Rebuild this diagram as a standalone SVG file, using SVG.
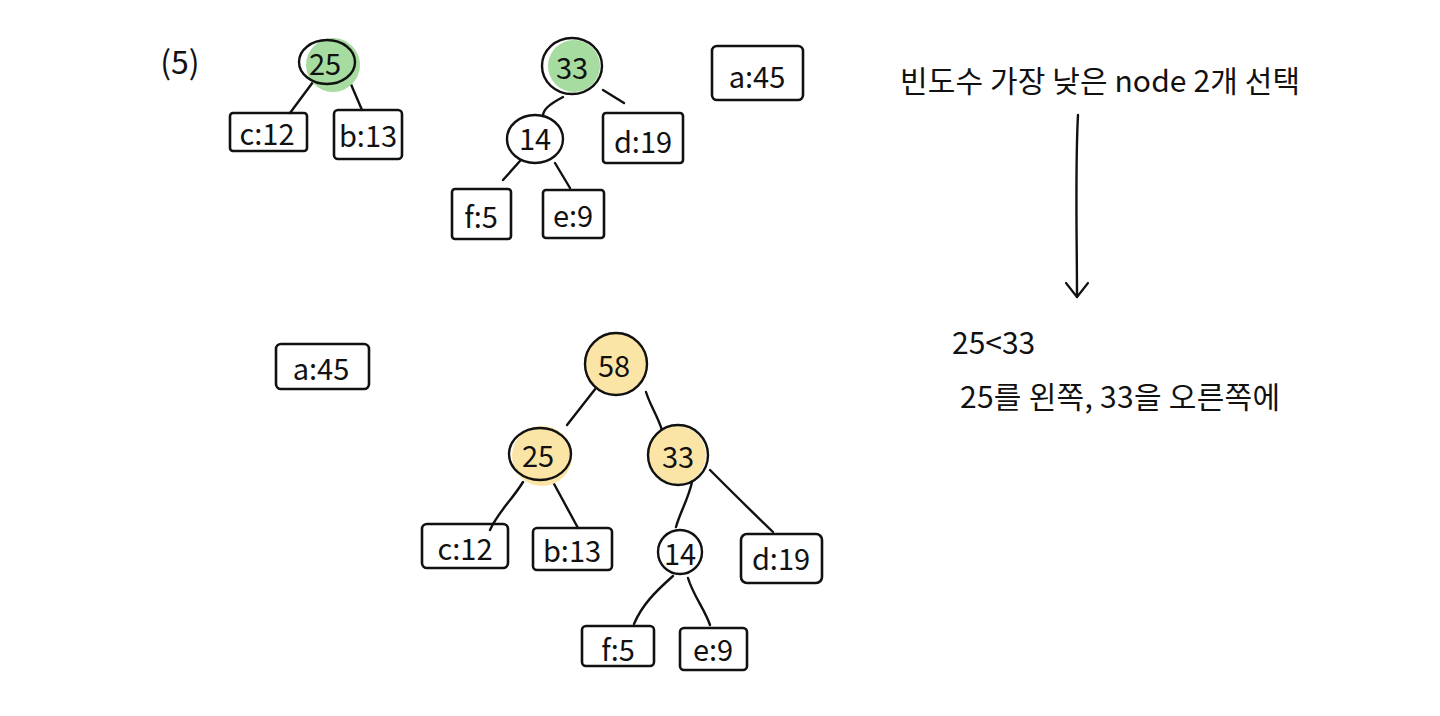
<svg xmlns="http://www.w3.org/2000/svg" width="1440" height="716" viewBox="0 0 1440 716">
<defs>
<style>
.bx{fill:none;stroke:#111;stroke-width:2.6;stroke-linejoin:round}
.ln{fill:none;stroke:#111;stroke-width:2.4;stroke-linecap:round}
.cl{stroke:#111;stroke-width:2.4}
.g{fill:#a6dc9f}
.y{fill:#fbe5a6}
.t{font-family:"Noto Sans CJK KR","Liberation Sans",sans-serif;font-size:29px;fill:#111;text-anchor:middle;dominant-baseline:central}
.k{font-family:"Noto Sans CJK KR","Liberation Sans",sans-serif;font-size:30px;fill:#111}
</style>
<marker id="ah" viewBox="0 0 20 24" refX="18" refY="12" markerWidth="20" markerHeight="24" markerUnits="userSpaceOnUse" orient="auto">
<path d="M4,1 L18,12 L4,23" fill="none" stroke="#111" stroke-width="2.2" stroke-linecap="round" stroke-linejoin="round"/>
</marker>
</defs>
<rect width="1440" height="716" fill="#fff"/>
<text class="t" x="180" y="60" style="font-size:32px">(5)</text>

<g id="connectors">
<path class="ln" d="M313,82 L290,113"/>
<path class="ln" d="M350,82 L362,110"/>
<path class="ln" d="M563,97 C548,105 543,110 543,116"/>
<path class="ln" d="M603,90 L624,103"/>
<path class="ln" d="M520,161 L503,180"/>
<path class="ln" d="M555,163 L570,188"/>
<path class="ln" d="M1078,115 C1075,170 1077,240 1077,297" marker-end="url(#ah)"/>
<path class="ln" d="M596,388 L567,425"/>
<path class="ln" d="M646,392 C650,405 657,415 662,430"/>
<path class="ln" d="M523,482 C512,500 498,512 490,530"/>
<path class="ln" d="M553,482 L578,528"/>
<path class="ln" d="M692,482 C688,500 680,512 676,527"/>
<path class="ln" d="M710,470 C735,495 750,510 773,532"/>
<path class="ln" d="M673,576 C655,592 642,605 634,624"/>
<path class="ln" d="M688,578 C693,595 705,610 710,625"/>
</g>

<g id="n25a"><circle class="g" cx="333" cy="65" r="27"/><ellipse class="cl" cx="327" cy="62" rx="28" ry="22" fill="none"/><text class="t" x="325" y="62">25</text></g>
<g id="c12a"><rect class="bx" x="230" y="113" width="77" height="38" rx="3"/><text class="t" x="267" y="132">c:12</text></g>
<g id="b13a"><rect class="bx" x="334" y="110" width="68" height="49" rx="4"/><text class="t" x="368" y="134">b:13</text></g>
<g id="n33a"><circle class="g" cx="574" cy="66" r="26"/><ellipse class="cl" cx="572" cy="66" rx="30" ry="28" fill="none"/><text class="t" x="572" y="66">33</text></g>
<g id="n14a"><ellipse class="cl" cx="535" cy="139" rx="28" ry="24" fill="none"/><text class="t" x="535" y="137">14</text></g>
<g id="d19a"><rect class="bx" x="603" y="113" width="80" height="50" rx="3"/><text class="t" x="643" y="140">d:19</text></g>
<g id="f5a"><rect class="bx" x="452" y="189" width="59" height="50" rx="3"/><text class="t" x="481" y="215">f:5</text></g>
<g id="e9a"><rect class="bx" x="543" y="190" width="61" height="48" rx="3"/><text class="t" x="573" y="214">e:9</text></g>
<g id="a45a"><rect class="bx" x="712" y="46" width="91" height="54" rx="5"/><text class="t" x="757" y="75">a:45</text></g>

<g id="note1"><text class="k" x="900" y="92" textLength="400" lengthAdjust="spacing">빈도수 가장 낮은 node 2개 선택</text></g>
<g id="note2"><text class="k" x="952" y="354">25&lt;33</text><text class="k" x="960" y="408" textLength="320" lengthAdjust="spacing">25를 왼쪽, 33을 오른쪽에</text></g>

<g id="a45b"><rect class="bx" x="276" y="344" width="93" height="45" rx="5"/><text class="t" x="321" y="367">a:45</text></g>
<g id="n58"><circle class="y" cx="616" cy="364" r="32"/><circle class="cl" cx="616" cy="364" r="31" fill="none"/><text class="t" x="614" y="364">58</text></g>
<g id="n25b"><circle class="y" cx="542" cy="456" r="30"/><ellipse class="cl" cx="540" cy="454" rx="31" ry="26" fill="none"/><text class="t" x="538" y="454">25</text></g>
<g id="n33b"><circle class="y" cx="677" cy="455" r="29"/><circle class="cl" cx="678" cy="455" r="30" fill="none"/><text class="t" x="678" y="455">33</text></g>
<g id="c12b"><rect class="bx" x="422" y="524" width="86" height="44" rx="5"/><text class="t" x="465" y="547">c:12</text></g>
<g id="b13b"><rect class="bx" x="533" y="528" width="79" height="42" rx="4"/><text class="t" x="572" y="549">b:13</text></g>
<g id="n14b"><circle class="cl" cx="680" cy="552" r="22" fill="none"/><text class="t" x="680" y="552">14</text></g>
<g id="d19b"><rect class="bx" x="741" y="534" width="81" height="49" rx="6"/><text class="t" x="781" y="557">d:19</text></g>
<g id="f5b"><rect class="bx" x="582" y="626" width="72" height="40" rx="4"/><text class="t" x="618" y="648">f:5</text></g>
<g id="e9b"><rect class="bx" x="680" y="628" width="67" height="42" rx="4"/><text class="t" x="713" y="648">e:9</text></g>
</svg>
